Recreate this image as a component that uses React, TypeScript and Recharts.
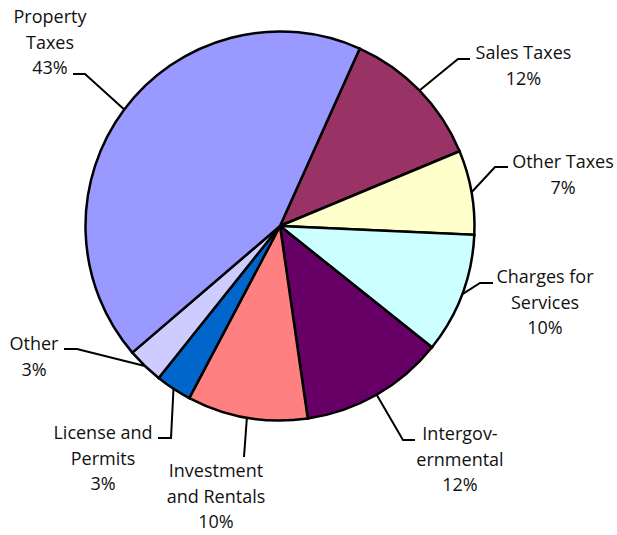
import { PieChart, Pie, Cell } from "recharts";

const categories = [
  "Sales Taxes",
  "Other Taxes",
  "Charges for Services",
  "Intergovernmental",
  "Investment and Rentals",
  "License and Permits",
  "Other",
  "Property Taxes",
];
const shares = [12, 7, 10, 12, 10, 3, 3, 43];
const labelText = [
  ["Sales Taxes"],
  ["Other Taxes"],
  ["Charges for", "Services"],
  ["Intergov-", "ernmental"],
  ["Investment", "and Rentals"],
  ["License and", "Permits"],
  ["Other"],
  ["Property", "Taxes"],
];
const colors = [
  "#993366",
  "#FFFFCC",
  "#CCFFFF",
  "#660066",
  "#FF8080",
  "#0066CC",
  "#CCCCFF",
  "#9999FF",
];

const data = categories.map((name, i) => ({ name, value: shares[i] }));

// where each leader line bends / ends, and where its text sits
const labelLayout = [
  { elbow: [458, 59], end: [470, 59], tx: 523.5, ty: 59 },
  { elbow: [495, 167], end: [508, 167], tx: 563, ty: 168 },
  { elbow: [480, 283], end: [493, 283], tx: 545, ty: 283 },
  { elbow: [403, 440], end: [415, 440], tx: 460, ty: 440 },
  { elbow: [244, 457], end: [244, 457], tx: 216, ty: 477 },
  { elbow: [171, 438], end: [158, 438], tx: 103, ty: 439 },
  { elbow: [77, 349], end: [64, 349], tx: 34, ty: 350 },
  { elbow: [85, 74], end: [73, 74], tx: 50, ty: 23 },
];

const RAD = Math.PI / 180;
const LINE_H = 25.5;

function SliceLabel(props: any) {
  const { cx, cy, midAngle, outerRadius, index, percent } = props;
  const lay = labelLayout[index];
  const sx = cx + outerRadius * Math.cos(-midAngle * RAD);
  const sy = cy + outerRadius * Math.sin(-midAngle * RAD);
  const lines = [...labelText[index], `${Math.round(percent * 100)}%`];
  return (
    <g>
      <polyline
        points={`${sx},${sy} ${lay.elbow[0]},${lay.elbow[1]} ${lay.end[0]},${lay.end[1]}`}
        fill="none"
        stroke="#000"
        strokeWidth={2}
      />
      <text
        x={lay.tx}
        y={lay.ty}
        textAnchor="middle"
        fill="#111"
        style={{ fontFamily: "'Open Sans', sans-serif", fontSize: 18 }}
      >
        {lines.map((l, i) => (
          <tspan key={i} x={lay.tx} y={lay.ty + i * LINE_H}>
            {l}
          </tspan>
        ))}
      </text>
    </g>
  );
}

export default function App() {
  return (
    <div style={{ position: "absolute", left: 0, top: 0, width: 617, height: 535, background: "#fff" }}>
      <PieChart width={617} height={535} margin={{ top: 0, right: 0, bottom: 0, left: 0 }}>
        <Pie
          data={data}
          dataKey="value"
          nameKey="name"
          cx={280}
          cy={226}
          outerRadius={194.5}
          startAngle={65.8}
          endAngle={-294.2}
          stroke="#000"
          strokeWidth={2.5}
          label={SliceLabel}
          labelLine={false}
          isAnimationActive={false}
        >
          {data.map((d, i) => (
            <Cell key={d.name} fill={colors[i]} />
          ))}
        </Pie>
      </PieChart>
    </div>
  );
}
